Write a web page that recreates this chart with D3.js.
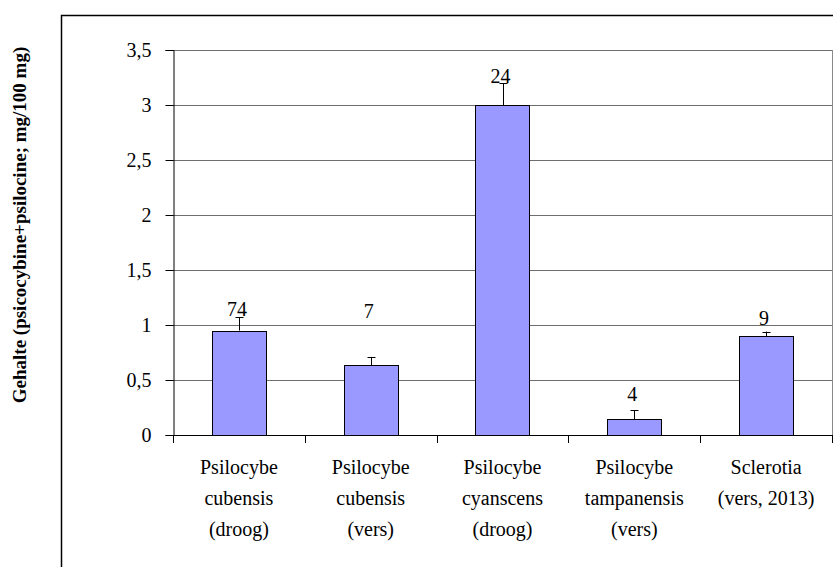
<!DOCTYPE html>
<html>
<head>
<meta charset="utf-8">
<script src="https://cdn.jsdelivr.net/npm/d3@7"></script>
<style>
  body { margin: 0; background: #fff; }
</style>
</head>
<body>
<div id="chart"></div>
<script>
// gegevens
var categories = [
  ["Psilocybe", "cubensis", "(droog)"],
  ["Psilocybe", "cubensis", "(vers)"],
  ["Psilocybe", "cyanscens", "(droog)"],
  ["Psilocybe", "tampanensis", "(vers)"],
  ["Sclerotia", "(vers, 2013)"]
];
var values = [0.95, 0.635, 3.0, 0.145, 0.9];
var errors = [0.12, 0.075, 0.2, 0.08, 0.04];
var counts = ["74", "7", "24", "4", "9"];
var countPos = [1.08, 1.06, 3.2, 0.31, 1.0];   // hoogte van het label in data-eenheden
var yTicks = [0, 0.5, 1, 1.5, 2, 2.5, 3, 3.5];
var yTitle = "Gehalte (psicocybine+psilocine; mg/100 mg)";

var FONT = "Liberation Serif";
var W = 833, H = 567;
var pLeft = 173, pRight = 832, pTop = 50, pBottom = 435;

var svg = d3.select("#chart").append("svg")
  .attr("width", W)
  .attr("height", H)
  .style("font-family", FONT);

// buitenkader (loopt rechts en onder uit beeld)
svg.append("rect")
  .attr("x", 61.5).attr("y", 15.5)
  .attr("width", 820).attr("height", 600)
  .attr("fill", "none").attr("stroke", "#000").attr("stroke-width", 1.5);

var x = d3.scaleBand()
  .domain(d3.range(values.length))
  .range([pLeft, pRight])
  .paddingInner(0.59).paddingOuter(0.295);

var y = d3.scaleLinear()
  .domain([0, 3.5])
  .range([pBottom, pTop]);

// rasterlijnen
svg.append("g").selectAll("line")
  .data(yTicks.slice(1)).enter()
  .append("line")
    .attr("x1", pLeft).attr("x2", pRight)
    .attr("y1", function(d){ return Math.round(y(d)) + 0.5; })
    .attr("y2", function(d){ return Math.round(y(d)) + 0.5; })
    .attr("stroke", "#6e6e6e").attr("stroke-width", 1);

// rechterrand plotgebied
svg.append("line")
  .attr("x1", pRight + 0.5).attr("x2", pRight + 0.5)
  .attr("y1", pTop).attr("y2", pBottom)
  .attr("stroke", "#8a8a8a");

// staven
svg.append("g").selectAll("rect")
  .data(values).enter()
  .append("rect")
    .attr("x", function(d, i){ return Math.round(x(i)) + 0.5; })
    .attr("y", function(d){ return Math.round(y(d)) + 0.5; })
    .attr("width", Math.round(x.bandwidth()))
    .attr("height", function(d){ return Math.round(y(0)) - Math.round(y(d)); })
    .attr("fill", "#9999ff")
    .attr("stroke", "#000").attr("stroke-width", 1);

// foutbalken
var eb = svg.append("g");
values.forEach(function(v, i){
  var cx = Math.round(x(i) + x.bandwidth() / 2) + 0.5;
  eb.append("line")
    .attr("x1", cx).attr("x2", cx)
    .attr("y1", y(v)).attr("y2", y(v + errors[i]))
    .attr("stroke", "#000");
  eb.append("line")
    .attr("x1", cx - 4).attr("x2", cx + 4)
    .attr("y1", Math.round(y(v + errors[i])) + 0.5).attr("y2", Math.round(y(v + errors[i])) + 0.5)
    .attr("stroke", "#000");
});

// aantallen boven de staven
svg.append("g").selectAll("text")
  .data(counts).enter()
  .append("text")
    .attr("x", function(d, i){ return x(i) + x.bandwidth() / 2 - 2; })
    .attr("y", function(d, i){ return y(countPos[i]); })
    .attr("text-anchor", "middle")
    .style("font-family", FONT)
    .style("font-size", "20px")
    .text(function(d){ return d; });

// y-as
var yAxis = d3.axisLeft(y)
  .tickValues(yTicks)
  .tickSize(8).tickPadding(14)
  .tickFormat(function(d){ return String(d).replace(".", ","); });

var ga = svg.append("g")
  .attr("transform", "translate(" + (pLeft + 0.5) + ",0)")
  .call(yAxis);
ga.attr("font-family", null);
ga.select(".domain").attr("stroke", "#000");
ga.selectAll(".tick line").attr("stroke", "#000");
ga.selectAll(".tick text")
  .style("font-family", FONT)
  .style("font-size", "20px")
  .attr("fill", "#000");

// x-as
var xEdges = d3.range(values.length + 1).map(function(i){
  return pLeft + i * (pRight - pLeft) / values.length;
});
svg.append("line")
  .attr("x1", pLeft).attr("x2", pRight + 1)
  .attr("y1", pBottom + 0.5).attr("y2", pBottom + 0.5)
  .attr("stroke", "#000");
svg.append("g").selectAll("line")
  .data(xEdges).enter()
  .append("line")
    .attr("x1", function(d){ return Math.round(d) + 0.5; })
    .attr("x2", function(d){ return Math.round(d) + 0.5; })
    .attr("y1", pBottom).attr("y2", pBottom + 8)
    .attr("stroke", "#000");

// categorielabels
var cl = svg.append("g");
categories.forEach(function(lines, i){
  var t = cl.append("text")
    .attr("x", x(i) + x.bandwidth() / 2)
    .attr("y", 474)
    .attr("text-anchor", "middle")
    .style("font-family", FONT)
    .style("font-size", "20px");
  lines.forEach(function(s, j){
    t.append("tspan")
      .attr("x", x(i) + x.bandwidth() / 2)
      .attr("dy", j === 0 ? 0 : 31)
      .text(s);
  });
});

// titel y-as
svg.append("text")
  .attr("transform", "translate(26,225) rotate(-90)")
  .attr("text-anchor", "middle")
  .style("font-family", FONT)
  .style("font-size", "19px")
  .style("font-weight", "bold")
  .text(yTitle);
</script>
</body>
</html>
